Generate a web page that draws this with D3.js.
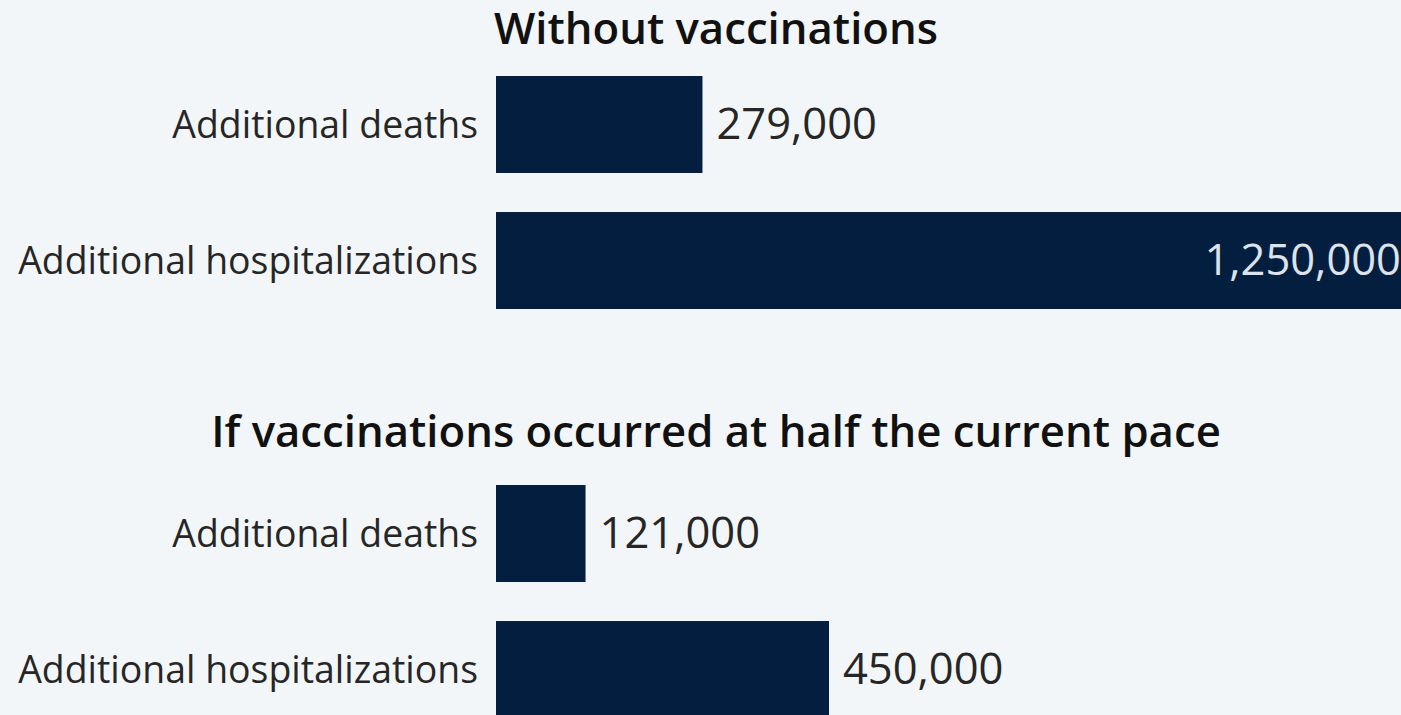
<!DOCTYPE html>
<html>
<head>
<meta charset="utf-8">
<script src="https://cdn.jsdelivr.net/npm/d3@7"></script>
<style>
  html, body { margin: 0; padding: 0; background: #f3f6f9; overflow: hidden; }
  svg { display: block; font-family: "Open Sans", sans-serif; }
</style>
</head>
<body>
<svg width="1401" height="715"></svg>
<script>
// data
var categories = ["Additional deaths", "Additional hospitalizations"];
var groupTitles = ["Without vaccinations", "If vaccinations occurred at half the current pace"];
var withoutVacc = [279000, 1250000];
var halfPace = [121000, 450000];
var valueLabels = [["279,000", "1,250,000"], ["121,000", "450,000"]];

var svg = d3.select("svg"),
    width = +svg.attr("width"),
    height = +svg.attr("height");

var x = d3.scaleLinear().domain([0, 1250000]).range([496, 1421]);

var groups = [
  { title: groupTitles[0], values: withoutVacc, labels: valueLabels[0], titleY: 44, top: 76 },
  { title: groupTitles[1], values: halfPace, labels: valueLabels[1], titleY: 447, top: 485 }
];

groups.forEach(function(grp) {
  var y = d3.scaleBand()
    .domain(categories)
    .range([grp.top, grp.top + 233])
    .paddingInner(0.287)
    .paddingOuter(0);

  var data = categories.map(function(c, i) {
    return { cat: c, value: grp.values[i], label: grp.labels[i] };
  });

  svg.append("text")
    .attr("x", 716)
    .attr("y", grp.titleY)
    .attr("text-anchor", "middle")
    .attr("font-size", "43.7px")
    .attr("font-weight", 600)
    .attr("fill", "#111")
    .text(grp.title);

  var g = svg.append("g");

  g.selectAll(".bar")
    .data(data).enter()
    .append("rect")
    .attr("class", "bar")
    .attr("x", x(0))
    .attr("y", function(d) { return y(d.cat); })
    .attr("width", function(d) { return x(d.value) - x(0); })
    .attr("height", y.bandwidth())
    .attr("fill", "#041e40");

  g.selectAll(".cat")
    .data(data).enter()
    .append("text")
    .attr("class", "cat")
    .attr("x", x(0) - 18)
    .attr("y", function(d) { return y(d.cat) + y.bandwidth() / 2; })
    .attr("dy", "0.35em")
    .attr("text-anchor", "end")
    .attr("font-size", "37.4px")
    .attr("fill", "#262626")
    .text(function(d) { return d.cat; });

  g.selectAll(".val")
    .data(data).enter()
    .append("text")
    .attr("class", "val")
    .attr("x", function(d) {
      var end = x(d.value);
      return end > width - 100 ? end - 20 : end + 14;
    })
    .attr("y", function(d) { return y(d.cat) + y.bandwidth() / 2; })
    .attr("dy", "0.33em")
    .attr("text-anchor", function(d) { return x(d.value) > width - 100 ? "end" : "start"; })
    .attr("font-size", "43.5px")
    .attr("fill", function(d) { return x(d.value) > width - 100 ? "#dde3ea" : "#262626"; })
    .text(function(d) { return d.label; });
});
</script>
</body>
</html>
